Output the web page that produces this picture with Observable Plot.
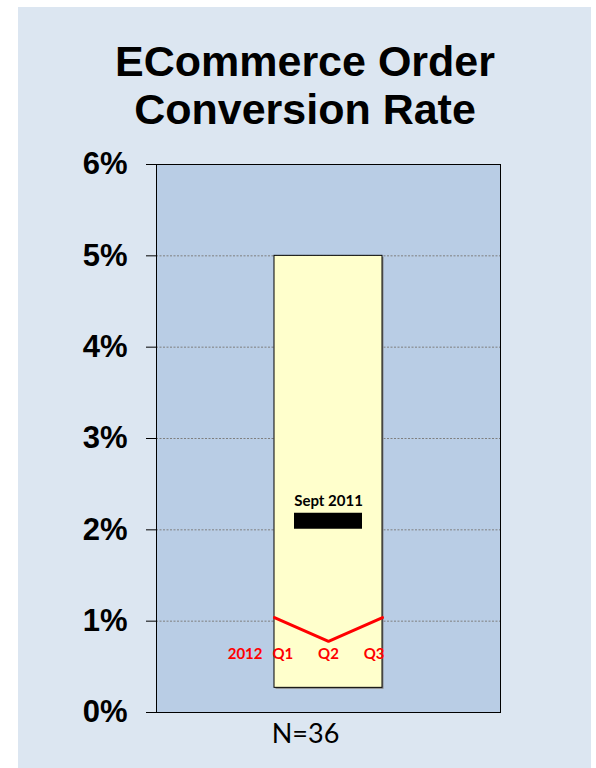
<!DOCTYPE html>
<html>
<head>
<meta charset="utf-8">
<script src="https://cdn.jsdelivr.net/npm/d3@7"></script>
<script src="https://cdn.jsdelivr.net/npm/@observablehq/plot@0.6"></script>
<style>
  html, body { margin: 0; padding: 0; background: #ffffff; }
  #page { position: relative; width: 596px; height: 768px; overflow: hidden; }
  #bg { position: absolute; left: 18px; top: 7px; width: 573px; height: 761px; background: #dce6f1; }
  #title { position: absolute; left: 0; top: 37px; width: 610px; text-align: center;
    font-family: "Liberation Sans", Arial, sans-serif; font-weight: bold; font-size: 43px; line-height: 48px; color: #000; }
  #chart { position: absolute; left: 0; top: 140px; }
</style>
</head>
<body>
<div id="page">
  <div id="bg"></div>
  <div id="title">ECommerce Order<br>Conversion Rate</div>
  <div id="chart"></div>
</div>
<script>
// ---- data ----
const titleLines = ["ECommerce Order", "Conversion Rate"];
const yTickValues = [0, 0.01, 0.02, 0.03, 0.04, 0.05, 0.06];
const rangeLow = 0.0027;
const rangeHigh = 0.05;
const septLabel = "Sept 2011";
const septValue = 0.021;
const yearLabel = "2012";
const quarters = ["Q1", "Q2", "Q3"];
const quarterValues = [0.0104, 0.0078, 0.0104];
const sampleLabel = "N=36";

const qdata = quarters.map((q, i) => ({q, i: i + 1, v: quarterValues[i]}));
const rangeData = [{lo: rangeLow, hi: rangeHigh}];
const gridValues = yTickValues.filter(v => v > 0 && v < 0.06);

const labelFont = "Lato, 'Open Sans', sans-serif";
const qStyle = {frameAnchor: "bottom", dy: -54, fill: "#ff0000", fontSize: 15, fontWeight: "bold", fontFamily: labelFont};

const chart = Plot.plot({
  width: 596,
  height: 628,
  marginLeft: 156,
  marginRight: 96,
  marginTop: 24,
  marginBottom: 56,
  style: {background: "transparent", color: "#000", fontFamily: "'Liberation Sans', Arial, sans-serif", overflow: "visible"},
  x: {domain: [1 - 118 / 54, 3 + 118 / 54], axis: null},
  y: {domain: [0, 0.06]},
  marks: [
    Plot.frame({fill: "#b9cde5", stroke: "none"}),
    Plot.ruleY(gridValues, {stroke: "#7f7f7f", strokeWidth: 1, strokeDasharray: "2,1.5"}),
    Plot.rect(rangeData, {x1: () => 1, x2: () => 3, y1: "lo", y2: "hi", fill: "#8a8a8a", dx: 1.5, dy: 1.5}),
    Plot.rect(rangeData, {x1: () => 1, x2: () => 3, y1: "lo", y2: "hi", fill: "#ffffcc", stroke: "#000", strokeWidth: 1}),
    Plot.ruleY([septValue], {x1: () => 2 - 34 / 54, x2: () => 2 + 34 / 54, stroke: "#000", strokeWidth: 16}),
    Plot.text([septLabel], {x: () => 2, y: () => septValue, text: d => d, dy: -20, fontSize: 15, fontWeight: "bold", fontFamily: labelFont, fill: "#000"}),
    Plot.line(qdata, {x: "i", y: "v", stroke: "#ff0000", strokeWidth: 3}),
    Plot.text(qdata.filter(d => d.i === 1), {x: "i", text: "q", textAnchor: "start", dx: -2, ...qStyle}),
    Plot.text(qdata.filter(d => d.i === 2), {x: "i", text: "q", textAnchor: "middle", ...qStyle}),
    Plot.text(qdata.filter(d => d.i === 3), {x: "i", text: "q", textAnchor: "end", dx: 2, ...qStyle}),
    Plot.text([yearLabel], {x: () => 1, text: d => d, textAnchor: "end", dx: -12, ...qStyle}),
    Plot.text([sampleLabel], {x: () => 2, text: d => d, frameAnchor: "bottom", dy: 30, dx: -23, fontSize: 27, fontFamily: labelFont, fill: "#000"}),
    Plot.axisY({ticks: yTickValues, tickFormat: d3.format(".0%"), tickSize: 10, tickPadding: 19, fontSize: 31, fontWeight: "bold", label: null, stroke: "#000"}),
    Plot.frame({stroke: "#000", strokeWidth: 1})
  ]
});
document.getElementById("chart").appendChild(chart);
</script>
</body>
</html>
